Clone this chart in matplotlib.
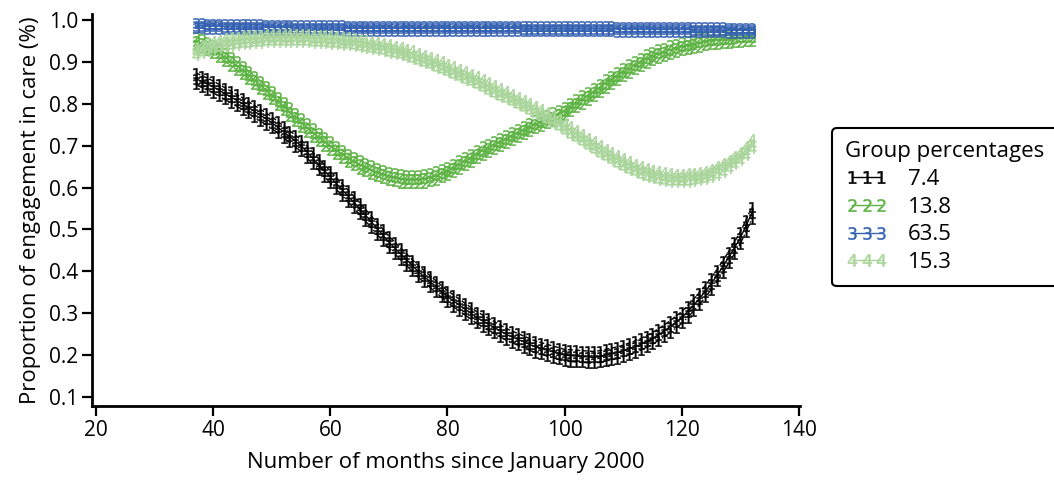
import numpy as np
import matplotlib
matplotlib.use("Agg")
import matplotlib.pyplot as plt
from matplotlib.lines import Line2D

plt.rcParams['font.family'] = ['Open Sans', 'DejaVu Sans']

# months 37..132
months = list(range(37, 133))

# estimated proportion engaged in care, one value per month
grp1 = [0.860, 0.853, 0.847, 0.840, 0.832, 0.824, 0.816, 0.808, 0.800, 0.791,
        0.782, 0.773, 0.764, 0.755, 0.744, 0.733, 0.722, 0.711, 0.700, 0.685,
        0.670, 0.655, 0.640, 0.625, 0.610, 0.595, 0.580, 0.565, 0.550, 0.534,
        0.518, 0.502, 0.486, 0.470, 0.456, 0.442, 0.428, 0.414, 0.400, 0.388,
        0.376, 0.364, 0.352, 0.340, 0.330, 0.320, 0.310, 0.300, 0.290, 0.282,
        0.274, 0.266, 0.258, 0.250, 0.244, 0.238, 0.232, 0.226, 0.220, 0.216,
        0.212, 0.208, 0.204, 0.200, 0.199, 0.198, 0.197, 0.196, 0.195, 0.197,
        0.200, 0.203, 0.206, 0.210, 0.215, 0.220, 0.226, 0.233, 0.240, 0.249,
        0.258, 0.268, 0.279, 0.290, 0.304, 0.319, 0.335, 0.352, 0.370, 0.390,
        0.411, 0.433, 0.456, 0.480, 0.509, 0.540]
grp2 = [0.950, 0.944, 0.937, 0.930, 0.921, 0.911, 0.901, 0.891, 0.880, 0.869,
        0.857, 0.845, 0.833, 0.820, 0.807, 0.794, 0.781, 0.768, 0.755, 0.743,
        0.731, 0.720, 0.710, 0.700, 0.690, 0.680, 0.671, 0.663, 0.655, 0.649,
        0.643, 0.637, 0.632, 0.628, 0.625, 0.622, 0.620, 0.620, 0.620, 0.622,
        0.625, 0.629, 0.634, 0.640, 0.647, 0.655, 0.663, 0.671, 0.680, 0.688,
        0.695, 0.702, 0.709, 0.716, 0.723, 0.730, 0.737, 0.744, 0.751, 0.757,
        0.763, 0.769, 0.776, 0.783, 0.792, 0.801, 0.810, 0.819, 0.828, 0.838,
        0.848, 0.857, 0.866, 0.875, 0.884, 0.892, 0.900, 0.908, 0.914, 0.920,
        0.924, 0.929, 0.933, 0.937, 0.940, 0.943, 0.946, 0.949, 0.952, 0.953,
        0.954, 0.955, 0.957, 0.958, 0.959, 0.960]
grp3 = [0.986, 0.986, 0.985, 0.985, 0.985, 0.984, 0.984, 0.984, 0.983, 0.983,
        0.983, 0.983, 0.982, 0.982, 0.982, 0.982, 0.982, 0.981, 0.981, 0.981,
        0.981, 0.981, 0.981, 0.981, 0.981, 0.981, 0.980, 0.980, 0.980, 0.980,
        0.980, 0.980, 0.980, 0.980, 0.980, 0.980, 0.980, 0.980, 0.980, 0.980,
        0.980, 0.980, 0.980, 0.980, 0.980, 0.980, 0.980, 0.980, 0.980, 0.980,
        0.980, 0.980, 0.980, 0.980, 0.980, 0.980, 0.979, 0.979, 0.979, 0.979,
        0.979, 0.979, 0.979, 0.979, 0.979, 0.979, 0.979, 0.979, 0.979, 0.979,
        0.979, 0.979, 0.978, 0.978, 0.978, 0.978, 0.978, 0.978, 0.977, 0.977,
        0.977, 0.977, 0.977, 0.977, 0.977, 0.976, 0.976, 0.976, 0.976, 0.976,
        0.976, 0.975, 0.975, 0.975, 0.975, 0.975]
grp4 = [0.925, 0.931, 0.936, 0.940, 0.943, 0.946, 0.948, 0.950, 0.952, 0.953,
        0.954, 0.955, 0.956, 0.957, 0.957, 0.957, 0.957, 0.957, 0.957, 0.956,
        0.955, 0.955, 0.954, 0.953, 0.952, 0.950, 0.949, 0.947, 0.945, 0.943,
        0.940, 0.938, 0.935, 0.932, 0.928, 0.925, 0.921, 0.917, 0.912, 0.907,
        0.902, 0.896, 0.891, 0.885, 0.879, 0.873, 0.867, 0.861, 0.855, 0.848,
        0.841, 0.834, 0.827, 0.820, 0.813, 0.806, 0.799, 0.792, 0.785, 0.778,
        0.770, 0.762, 0.754, 0.745, 0.736, 0.727, 0.718, 0.709, 0.700, 0.691,
        0.683, 0.675, 0.667, 0.660, 0.653, 0.647, 0.641, 0.636, 0.632, 0.629,
        0.626, 0.624, 0.623, 0.623, 0.624, 0.625, 0.627, 0.630, 0.635, 0.641,
        0.648, 0.656, 0.665, 0.675, 0.688, 0.705]

# half width of the confidence band for each group
ci_half = [0.014, 0.010, 0.006, 0.010]

groups = ['1', '2', '3', '4']
group_pct = ['7.4', '13.8', '63.5', '15.3']
colors = ['#000000', '#5db343', '#3461b1', '#a9d59b']
series = [grp1, grp2, grp3, grp4]

fig = plt.figure(figsize=(10.54, 4.8), dpi=100)
ax = fig.add_axes([0.0873, 0.1542, 0.6717, 0.8167])

x = np.array(months)
for g, col, vals, hw in zip(groups, colors, series, ci_half):
    y = np.array(vals)
    mk = dict(marker='$%s$' % g, markersize=7.5, mfc=col, mec=col, mew=0.3)
    ax.plot(x, y + hw, ls='--', color=col, lw=1.0, **mk)
    ax.plot(x, y - hw, ls='-.', color=col, lw=1.0, **mk)
    ax.plot(x, y, ls='-', color=col, lw=1.0, **mk)

ax.set_xlim(19.3, 140.2)
ax.set_ylim(0.079, 1.014)
ax.set_xticks([20, 40, 60, 80, 100, 120, 140])
ax.set_yticks(np.arange(0.1, 1.01, 0.1))
ax.set_yticklabels(['%.1f' % v for v in np.arange(0.1, 1.01, 0.1)])
for s in ['top', 'right']:
    ax.spines[s].set_visible(False)
for s in ['left', 'bottom']:
    ax.spines[s].set_linewidth(2)
ax.tick_params(direction='out', length=7, width=1.6, labelsize=15, pad=3)
ax.set_xlabel('Number of months since January 2000', fontsize=16, labelpad=8)
ax.set_ylabel('Proportion of engagement in care (%)', fontsize=16, labelpad=6)

handles = [Line2D([], [], color=c, lw=1.0, marker='$%s$' % g, markersize=9,
                  mfc=c, mec=c, mew=0.3) for g, c in zip(groups, colors)]
leg = fig.legend(handles, group_pct, title='Group percentages',
                 loc='upper left', bbox_to_anchor=(821 / 1054, 1 - 117 / 480),
                 numpoints=3, fontsize=16, title_fontsize=16, frameon=True,
                 fancybox=True, edgecolor='black', framealpha=1,
                 handlelength=1.9, handletextpad=0.9, labelspacing=0.3,
                 borderpad=0.6, alignment='left')
leg.get_frame().set_linewidth(1.5)

fig.savefig('out.png', dpi=100)
